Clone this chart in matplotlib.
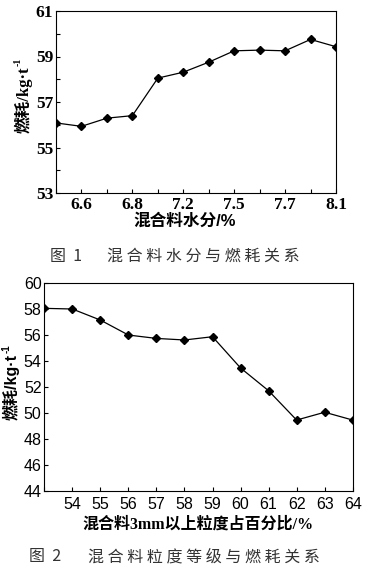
import matplotlib
matplotlib.use("Agg")
import matplotlib.pyplot as plt
from matplotlib.ticker import FixedLocator

# ---------- data ----------
# Figure 1: moisture vs fuel consumption
moisture_ticklabels = ['', '6.6', '', '6.8', '', '7.2', '', '7.5', '', '7.7', '', '8.1']
fuel1 = [56.08, 55.93, 56.29, 56.40, 58.05, 58.31, 58.75, 59.25, 59.28, 59.25, 59.75, 59.43]
y1_major = [53, 55, 57, 59, 61]
y1_minor = [54, 56, 58, 60]

# Figure 2: >3mm fraction vs fuel consumption
size_pct = [53, 54, 55, 56, 57, 58, 59, 60, 61, 62, 63, 64]
size_ticklabels = ['', '54', '55', '56', '57', '58', '59', '60', '61', '62', '63', '64']
fuel2 = [58.03, 57.98, 57.13, 55.98, 55.72, 55.60, 55.85, 53.45, 51.70, 49.45, 50.05, 49.45]
y2_major = [44, 46, 48, 50, 52, 54, 56, 58, 60]

W, H = 378, 576
fig = plt.figure(figsize=(W / 100, H / 100), dpi=100)

def fx(px):
    return px / W

def fy(py):
    return 1 - py / H

serif_cjk = ['Liberation Serif', 'Noto Sans CJK SC']
sans_cjk = ['Liberation Sans', 'Noto Sans CJK SC']
renderer = fig.canvas.get_renderer()

def ylabel_with_sup(xc, yc, fam, size):
    t = fig.text(fx(xc), fy(yc), '燃耗/kg·t', family=fam, fontsize=size, fontweight='bold',
                 rotation=90, ha='center', va='center')
    bb = t.get_window_extent(renderer)
    # superscript "-1" after the end (top) of rotated label, shifted left (raised)
    fig.text((bb.x0 - 1) / W, (bb.y1 + 1) / H, '-1', family=fam, fontsize=size * 0.6,
             fontweight='bold', rotation=90, ha='left', va='bottom')

# ---------- chart 1 ----------
ax1 = fig.add_axes([fx(56), fy(193), fx(336) - fx(56), fy(11) - fy(193)])
x1 = list(range(len(fuel1)))
ax1.plot(x1, fuel1, color='black', lw=0.9, marker='D', ms=3.6, mfc='black', mec='black')
ax1.set_xlim(0, len(fuel1) - 1)
ax1.set_ylim(53, 61)
ax1.set_xticks(x1)
ax1.set_xticklabels(moisture_ticklabels, family='Liberation Serif', fontsize=12.5, fontweight='bold')
ax1.yaxis.set_major_locator(FixedLocator(y1_major))
ax1.yaxis.set_minor_locator(FixedLocator(y1_minor))
ax1.set_yticklabels([str(v) for v in y1_major], family='Liberation Serif', fontsize=12.5,
                    fontweight='bold')
ax1.tick_params(axis='both', which='both', direction='in', length=3, width=0.8, pad=3)
ax1.tick_params(axis='y', which='major', pad=2)
for s in ax1.spines.values():
    s.set_linewidth(0.8)
fig.text(fx(185), fy(221), '混合料水分/%', family=sans_cjk, fontsize=12, fontweight='bold',
         ha='center', va='center')
ylabel_with_sup(24, 100, serif_cjk, 12)
fig.text(fx(50), fy(256), '图  1', family=['Noto Sans CJK SC'], fontsize=11.5,
         color='#333333', ha='left', va='center')
fig.text(fx(107), fy(256), '混 合 料 水 分 与 燃 耗 关 系', family=['Noto Sans CJK SC'],
         fontsize=11.5, color='#333333', ha='left', va='center')

# ---------- chart 2 ----------
ax2 = fig.add_axes([fx(44.3), fy(491), fx(352.7) - fx(44.3), fy(282.7) - fy(491)])
ax2.plot(size_pct, fuel2, color='black', lw=0.9, marker='D', ms=3.6, mfc='black', mec='black')
ax2.set_xlim(53, 64)
ax2.set_ylim(44, 60)
ax2.set_xticks(size_pct)
ax2.set_xticklabels(size_ticklabels, family='Liberation Sans', fontsize=11.5)
ax2.yaxis.set_major_locator(FixedLocator(y2_major))
ax2.set_yticklabels([str(v) for v in y2_major], family='Liberation Sans', fontsize=11.5)
ax2.tick_params(axis='both', which='both', direction='in', length=3, width=0.8, pad=4)
ax2.tick_params(axis='y', which='major', pad=2)
for s in ax2.spines.values():
    s.set_linewidth(0.8)
fig.text(fx(198), fy(525), '混合料3mm以上粒度占百分比/%', family=serif_cjk, fontsize=11.5,
         fontweight='bold', ha='center', va='center')
ylabel_with_sup(11, 387, sans_cjk, 11.5)
fig.text(fx(29), fy(557), '图  2', family=['Noto Sans CJK SC'], fontsize=11.5,
         color='#333333', ha='left', va='center')
fig.text(fx(88), fy(557), '混 合 料 粒 度 等 级 与 燃 耗 关 系', family=['Noto Sans CJK SC'],
         fontsize=11.5, color='#333333', ha='left', va='center')

fig.savefig('out.png', dpi=100)
